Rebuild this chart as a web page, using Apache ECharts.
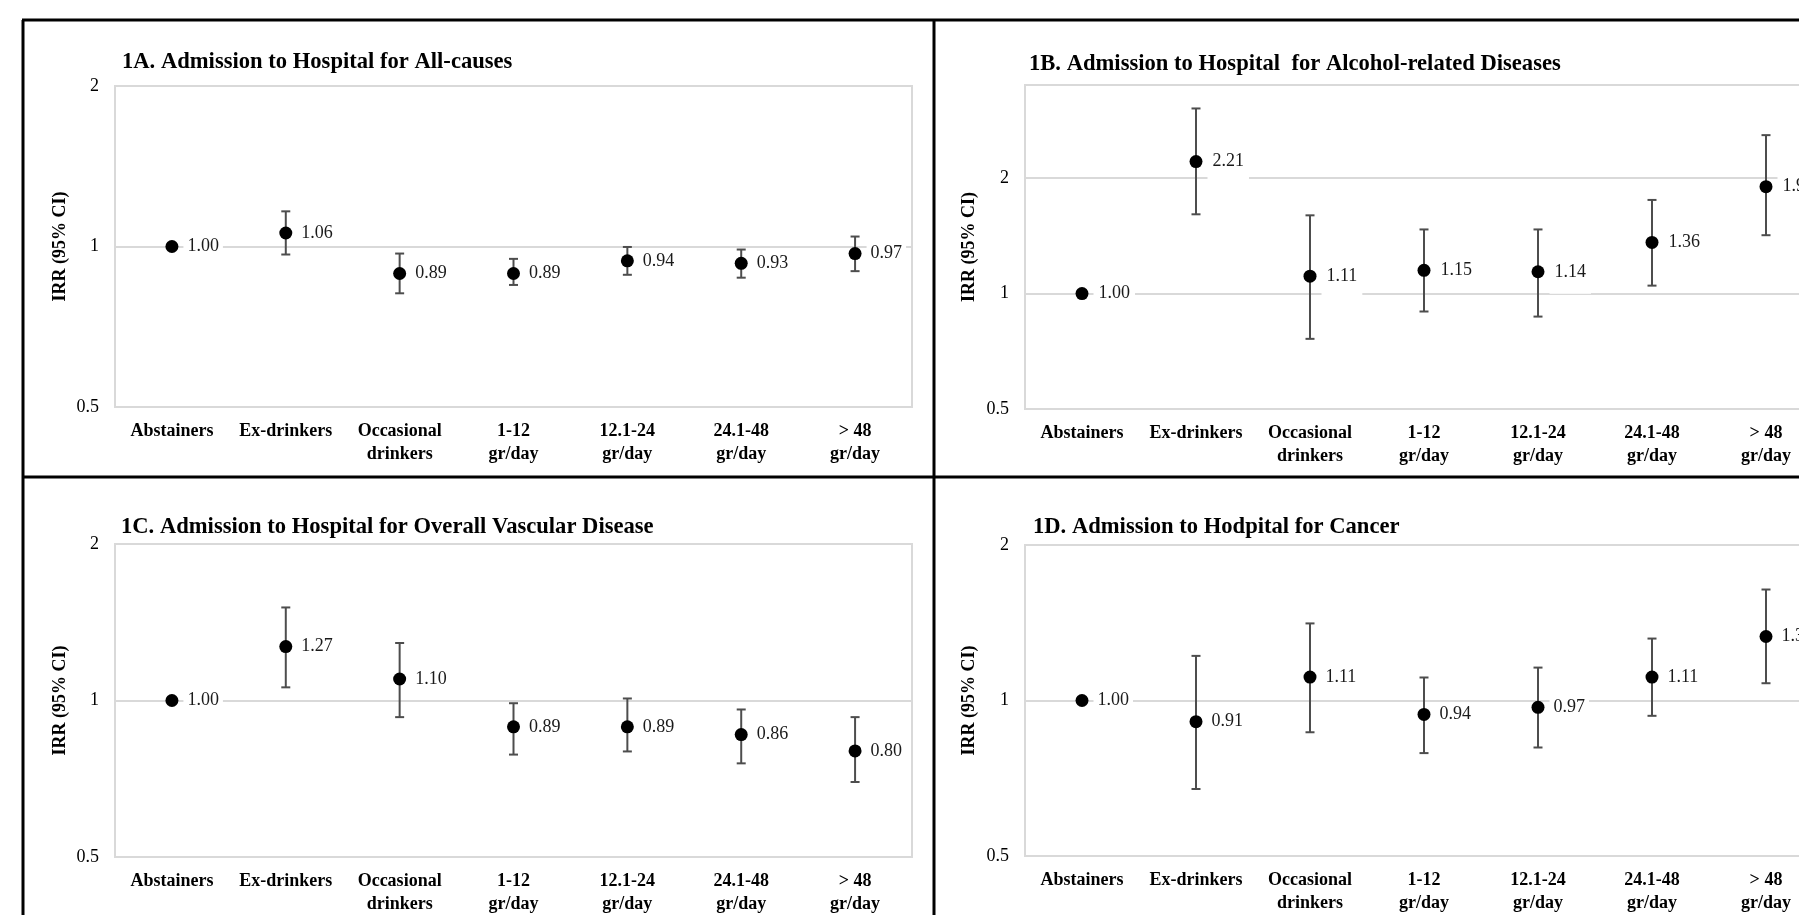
<!DOCTYPE html>
<html>
<head>
<meta charset="utf-8">
<title>IRR by drinking category</title>
<script src="https://cdn.jsdelivr.net/npm/echarts@6/dist/echarts.min.js"></script>
<style>
  html, body { margin: 0; padding: 0; background: #fff; }
  #main { width: 1799px; height: 915px; }
</style>
</head>
<body>
<div id="main"></div>
<script>
// categories shared by all four panels
var categories = ['Abstainers', 'Ex-drinkers', 'Occasional\ndrinkers', '1-12\ngr/day', '12.1-24\ngr/day', '24.1-48\ngr/day', '> 48\ngr/day'];
var yTicks = [0.5, 1, 2];

// 1A all-causes
var irrA = [1.00, 1.06, 0.89, 0.89, 0.94, 0.93, 0.97];
var lowA = [null, 0.966, 0.817, 0.847, 0.885, 0.874, 0.899];
var highA = [null, 1.164, 0.970, 0.948, 0.998, 0.987, 1.044];

// 1B alcohol-related
var irrB = [1.00, 2.21, 1.11, 1.15, 1.14, 1.36, 1.90];
var lowB = [null, 1.61, 0.762, 0.898, 0.871, 1.049, 1.42];
var highB = [null, 3.04, 1.60, 1.47, 1.47, 1.755, 2.59];

// 1C vascular
var irrC = [1.00, 1.27, 1.10, 0.89, 0.89, 0.86, 0.80];
var lowC = [null, 1.06, 0.929, 0.787, 0.798, 0.757, 0.697];
var highC = [null, 1.51, 1.29, 0.988, 1.009, 0.961, 0.929];

// 1D cancer
var irrD = [1.00, 0.91, 1.11, 0.94, 0.97, 1.11, 1.33];
var lowD = [null, 0.674, 0.868, 0.791, 0.811, 0.934, 1.08];
var highD = [null, 1.22, 1.41, 1.108, 1.158, 1.318, 1.64];

var titles = [
  '1A. Admission to Hospital for All-causes',
  '1B. Admission to Hospital  for Alcohol-related Diseases',
  '1C. Admission to Hospital for Overall Vascular Disease',
  '1D. Admission to Hodpital for Cancer'
];

var serif = '"Liberation Serif", "Times New Roman", serif';
var panels = [
  { irr: irrA, low: lowA, high: highA, max: 2 },
  { irr: irrB, low: lowB, high: highB, max: 3.5 },
  { irr: irrC, low: lowC, high: highC, max: 2 },
  { irr: irrD, low: lowD, high: highD, max: 2 }
];
// right-hand panels run past the edge of the picture, as in the source figure
var grids = [
  { left: 115, top: 86, width: 797, height: 321 },
  { left: 1025, top: 85, width: 798, height: 324 },
  { left: 115, top: 544, width: 797, height: 313 },
  { left: 1025, top: 545, width: 798, height: 311 }
];
var titlePos = [[122, 51], [1029, 53], [121, 516], [1033, 516]];

function renderErr(params, api) {
  var x = api.value(0);
  var lo = api.coord([x, api.value(1)]);
  var hi = api.coord([x, api.value(2)]);
  var w = 4.5;
  var st = { stroke: '#4d4d4d', lineWidth: 2 };
  return {
    type: 'group',
    children: [
      { type: 'line', shape: { x1: lo[0], y1: lo[1], x2: hi[0], y2: hi[1] }, style: st },
      { type: 'line', shape: { x1: hi[0] - w, y1: hi[1], x2: hi[0] + w, y2: hi[1] }, style: st },
      { type: 'line', shape: { x1: lo[0] - w, y1: lo[1], x2: lo[0] + w, y2: lo[1] }, style: st }
    ]
  };
}

var xAxes = [], yAxes = [], series = [], titleOpts = [], gridOpts = [];
panels.forEach(function (p, k) {
  gridOpts.push(Object.assign({
    show: true, borderColor: '#d9d9d9', borderWidth: 2,
    containLabel: false, outerBoundsMode: 'none'
  }, grids[k]));
  titleOpts.push({
    text: titles[k], left: titlePos[k][0], top: titlePos[k][1], padding: 0,
    textStyle: { fontFamily: serif, fontWeight: 'bold', fontSize: 22.6, color: '#000' }
  });
  xAxes.push({
    type: 'category', gridIndex: k, data: categories,
    axisLine: { show: false }, axisTick: { show: false }, splitLine: { show: false },
    axisLabel: { interval: 0, margin: 13, fontFamily: serif, fontWeight: 'bold', fontSize: 18, lineHeight: 23, color: '#000' }
  });
  yAxes.push({
    type: 'log', logBase: 2, gridIndex: k, min: 0.5, max: p.max,
    name: 'IRR (95% CI)', nameLocation: 'middle', nameRotate: 90, nameGap: k % 2 ? 47 : 46,
    nameTextStyle: { fontFamily: serif, fontWeight: 'bold', fontSize: 18, color: '#000' },
    axisLine: { show: false }, axisTick: { show: false },
    splitLine: { show: true, lineStyle: { color: '#d9d9d9', width: 2 } },
    axisLabel: {
      margin: 16, fontFamily: serif, fontSize: 18, color: '#000',
      formatter: function (v) {
        for (var i = 0; i < yTicks.length; i++) {
          if (Math.abs(v - yTicks[i]) < 1e-6) return String(yTicks[i]);
        }
        return '';
      }
    }
  });
  var errData = [], ptData = [];
  p.irr.forEach(function (v, i) {
    if (p.low[i] != null) errData.push([i, p.low[i], p.high[i]]);
    ptData.push([i, v]);
  });
  series.push({
    type: 'custom', xAxisIndex: k, yAxisIndex: k, renderItem: renderErr,
    encode: { x: 0, y: [1, 2] }, data: errData, z: 2, silent: true
  });
  series.push({
    type: 'scatter', xAxisIndex: k, yAxisIndex: k, data: ptData, z: 3,
    symbol: 'circle', symbolSize: 13, itemStyle: { color: '#000', opacity: 1 },
    label: {
      show: true, position: 'right', distance: 5,
      formatter: function (d) { return d.value[1].toFixed(2); },
      fontFamily: serif, fontSize: 18, color: '#1a1a1a',
      backgroundColor: '#fff', padding: k === 1 ? [13, 5, 13, 5] : [3, 4, 3, 4]
    }
  });
});

// panel frame lines
var frame = { stroke: '#000', lineWidth: 3 };
var graphics = [
  { type: 'line', shape: { x1: 22, y1: 20, x2: 1799, y2: 20 }, style: frame },
  { type: 'line', shape: { x1: 23, y1: 20, x2: 23, y2: 915 }, style: frame },
  { type: 'line', shape: { x1: 934, y1: 20, x2: 934, y2: 915 }, style: frame },
  { type: 'line', shape: { x1: 22, y1: 477, x2: 1799, y2: 477 }, style: frame }
];

var myChart = echarts.init(document.getElementById('main'), null, { renderer: 'canvas' });
myChart.setOption({
  animation: false,
  backgroundColor: '#fff',
  title: titleOpts,
  grid: gridOpts,
  xAxis: xAxes,
  yAxis: yAxes,
  series: series,
  graphic: graphics
});
window.addEventListener('resize', function () { myChart.resize(); });
</script>
</body>
</html>
